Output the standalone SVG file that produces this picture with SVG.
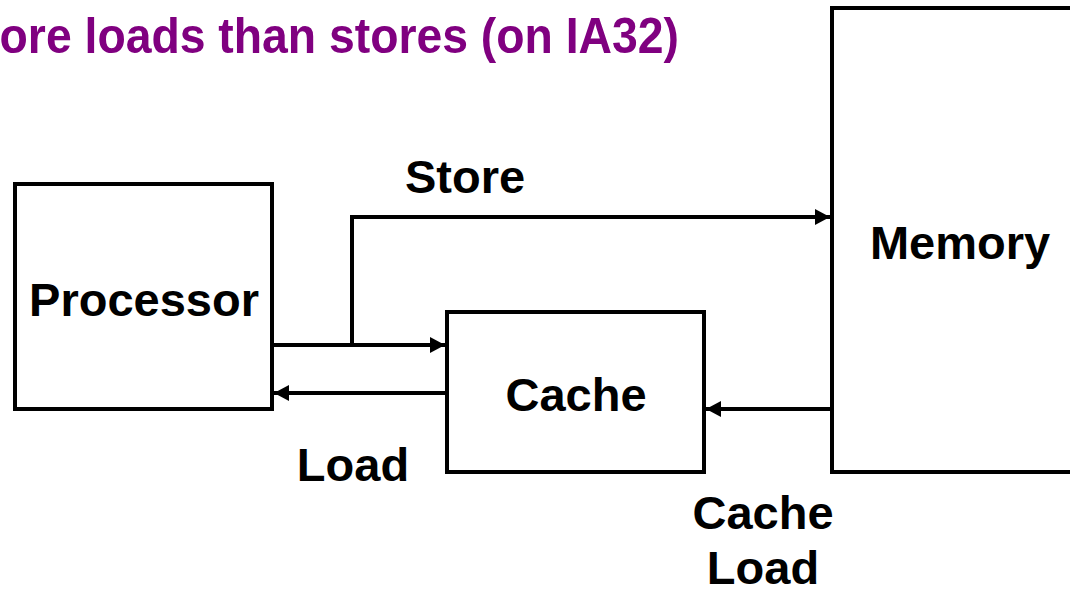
<svg xmlns="http://www.w3.org/2000/svg" width="1070" height="589" viewBox="0 0 1070 589">
<style>
.box{fill:#fff;stroke:#000;stroke-width:4}
.ln{fill:none;stroke:#000;stroke-width:4}
text{font-family:"Liberation Sans",Arial,sans-serif;font-weight:bold;font-size:47px;fill:#000;text-anchor:middle}
.title{fill:#800080;text-anchor:start;font-size:50px}
</style>
<defs>
<marker id="ah" markerUnits="userSpaceOnUse" markerWidth="16" markerHeight="18" refX="15" refY="9" orient="auto">
<path d="M0,1 L15,9 L0,17 Z" fill="#000"/>
</marker>
</defs>
<rect width="1070" height="589" fill="#fff"/>
<text class="title" x="-39" y="53" textLength="718" lengthAdjust="spacingAndGlyphs">More loads than stores (on IA32)</text>
<g id="processor"><rect class="box" x="15" y="184" width="257" height="225"/><text x="144" y="316">Processor</text></g>
<g id="cache"><rect class="box" x="447" y="312" width="257" height="160"/><text x="576" y="411">Cache</text></g>
<g id="memory"><rect class="box" x="832" y="8" width="260" height="464"/><text x="960" y="259">Memory</text></g>
<g id="connectors">
<polyline class="ln" points="352,345 352,217 830,217" marker-end="url(#ah)"/>
<line class="ln" x1="272" y1="345" x2="445" y2="345" marker-end="url(#ah)"/>
<line class="ln" x1="447" y1="393" x2="274" y2="393" marker-end="url(#ah)"/>
<line class="ln" x1="832" y1="409" x2="706" y2="409" marker-end="url(#ah)"/>
<text x="465" y="193">Store</text>
<text x="353" y="481">Load</text>
<text x="763" y="529">Cache</text>
<text x="763" y="584">Load</text>
</g>
</svg>
